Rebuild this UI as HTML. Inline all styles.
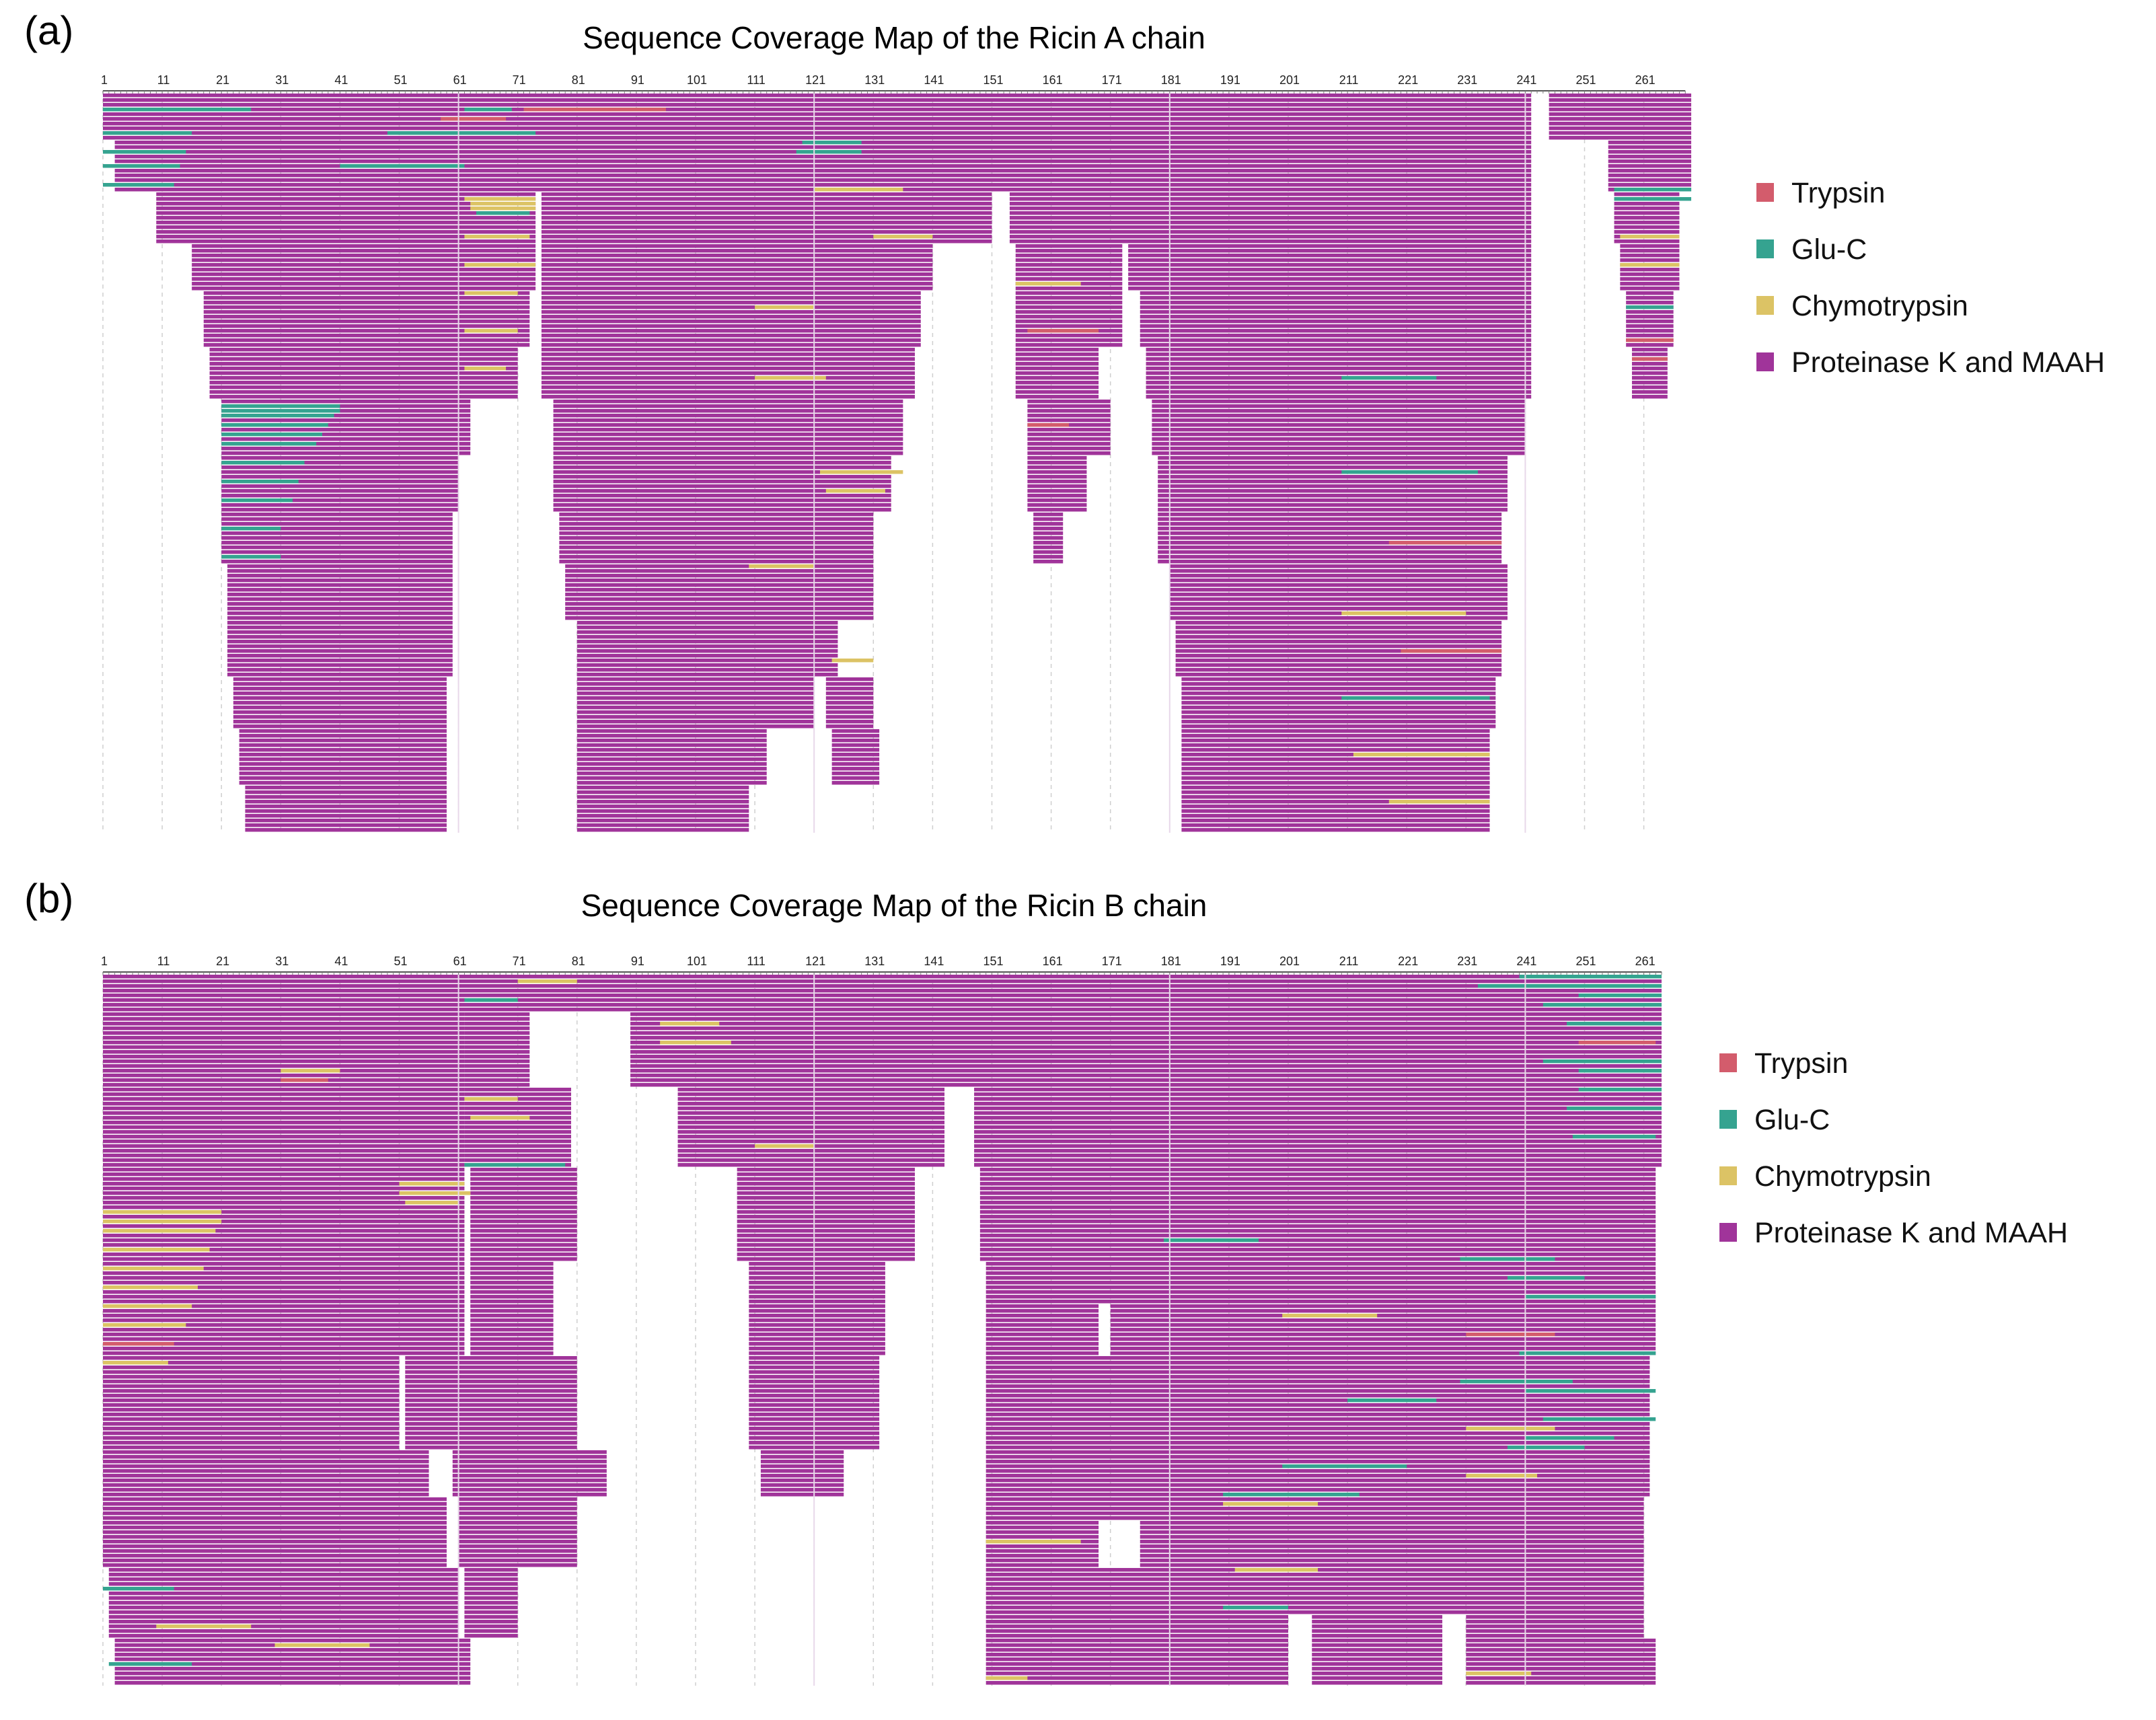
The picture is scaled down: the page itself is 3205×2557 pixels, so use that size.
<!DOCTYPE html>
<html><head><meta charset="utf-8">
<style>
html,body{margin:0;padding:0;background:#fff;}
svg{display:block;font-family:"Liberation Sans",sans-serif;}
</style></head>
<body>
<svg id="chart" width="3205" height="2557" viewBox="0 0 3205 2557" xmlns="http://www.w3.org/2000/svg">
<text x="36" y="66" font-size="60">(a)</text>
<text x="1329" y="72" font-size="46" text-anchor="middle">Sequence Coverage Map of the Ricin A chain</text>
<text x="36" y="1356" font-size="60">(b)</text>
<text x="1329" y="1362" font-size="46" text-anchor="middle">Sequence Coverage Map of the Ricin B chain</text>
<g id="pa"></g>
<g id="pb"></g>
<g id="legA"></g>
<g id="legB"></g>
</svg>
<script>
// enzyme keys: p = Proteinase K and MAAH, t = Trypsin, g = Glu-C, c = Chymotrypsin
const enzymeNames = ["Trypsin","Glu-C","Chymotrypsin","Proteinase K and MAAH"];
const enzymeKeys = ["t","g","c","p"];
const enzymeColors = {t:"#d35c6c", g:"#35a390", c:"#dcc365", p:"#a0349a"};
const tickLabels = [1,11,21,31,41,51,61,71,81,91,101,111,121,131,141,151,161,171,181,191,201,211,221,231,241,251,261];

// Panel A bands: [rowStart,rowEnd,startResidue,endResidue]
const bandsA = [
[0,9,1,241],[0,9,245,268],
[10,20,3,241],[10,20,255,268],
[21,31,10,73],[21,31,75,150],[21,31,154,241],[21,31,256,266],
[32,41,16,73],[32,41,75,140],[32,41,155,172],[32,41,174,241],[32,41,257,266],
[42,53,18,72],[42,53,75,138],[42,53,155,172],[42,53,176,241],[42,53,258,265],
[54,64,19,70],[54,64,75,137],[54,64,155,168],[54,64,177,241],[54,64,259,264],
[65,76,21,62],[65,76,77,135],[65,76,157,170],[65,76,178,240],
[77,88,21,60],[77,88,77,133],[77,88,157,166],[77,88,179,237],
[89,99,21,59],[89,99,78,130],[89,99,158,162],[89,99,179,236],
[100,111,22,59],[100,111,79,130],[100,111,181,237],
[112,123,22,59],[112,123,81,124],[112,123,182,236],
[124,134,23,58],[124,134,81,120],[124,134,123,130],[124,134,183,235],
[135,146,24,58],[135,146,81,112],[135,146,124,131],[135,146,183,234],
[147,156,25,58],[147,156,81,109],[147,156,183,234]
];
// Panel A colored peptides: [row,start,end,enzyme]
const pepsA = [
[3,1,25,"g"],[3,62,69,"g"],[3,72,95,"t"],[5,58,68,"t"],[8,1,15,"g"],[8,49,73,"g"],[12,1,14,"g"],[15,1,13,"g"],[15,41,61,"g"],
[19,1,12,"g"],[22,62,73,"c"],[23,63,73,"c"],[24,63,73,"c"],[25,64,72,"g"],[30,62,72,"c"],[36,62,73,"c"],[42,62,70,"c"],[50,62,70,"c"],[58,62,68,"c"],
[66,21,40,"g"],[67,21,40,"g"],[68,21,39,"g"],[70,21,38,"g"],[72,21,37,"g"],[74,21,36,"g"],[78,21,34,"g"],[82,21,33,"g"],[86,21,32,"g"],[92,21,30,"g"],[98,21,30,"g"],
[10,119,128,"g"],[12,118,128,"g"],[20,121,135,"c"],[30,131,140,"c"],[45,111,120,"c"],[60,111,122,"c"],[80,122,135,"c"],[84,123,132,"c"],[100,110,120,"c"],[120,124,130,"c"],
[40,155,165,"c"],[50,157,168,"t"],[70,157,163,"t"],[60,210,225,"g"],[80,210,232,"g"],[95,218,236,"t"],[110,210,230,"c"],[118,220,236,"t"],[128,210,234,"g"],[140,212,234,"c"],[150,218,234,"c"],
[20,256,268,"g"],[22,256,268,"g"],[30,257,266,"c"],[36,257,266,"c"],[45,258,265,"g"],[52,258,265,"t"],[56,259,264,"t"]
];
// Panel B bands
const bandsB = [
[0,7,1,263],
[8,23,1,61],[8,23,62,72],[8,23,90,263],
[24,40,1,61],[24,40,62,79],[24,40,98,142],[24,40,148,263],
[41,60,1,61],[41,60,63,80],[41,60,108,137],[41,60,149,262],
[61,69,1,61],[61,69,63,76],[61,69,110,132],[61,69,150,262],
[70,80,1,61],[70,80,63,76],[70,80,110,132],[70,80,150,168],[70,80,171,262],
[81,100,1,50],[81,100,52,80],[81,100,110,131],[81,100,150,261],
[101,110,1,55],[101,110,60,85],[101,110,112,125],[101,110,150,261],
[111,115,1,58],[111,115,61,80],[111,115,150,260],
[116,125,1,58],[116,125,61,80],[116,125,150,168],[116,125,176,260],
[126,135,2,60],[126,135,62,70],[126,135,150,260],
[136,140,2,60],[136,140,62,70],[136,140,150,200],[136,140,205,226],[136,140,231,260],
[141,150,3,62],[141,150,150,200],[141,150,205,226],[141,150,231,262]
];
const pepsB = [
[0,240,263,"g"],[2,233,263,"g"],[4,250,263,"g"],[6,244,263,"g"],[10,248,263,"g"],[14,250,262,"t"],[18,244,263,"g"],[1,71,80,"c"],[5,62,70,"g"],[10,95,104,"c"],[14,95,106,"c"],
[20,31,40,"c"],[22,31,38,"t"],[26,62,70,"c"],[30,63,72,"c"],[36,111,120,"c"],[40,62,78,"g"],[44,51,61,"c"],[46,51,62,"c"],[48,52,60,"c"],
[50,1,20,"c"],[52,1,20,"c"],[54,1,19,"c"],[58,1,18,"c"],[62,1,17,"c"],[66,1,16,"c"],[70,1,15,"c"],[74,1,14,"c"],[78,1,12,"t"],[82,1,11,"c"],
[56,180,195,"g"],[60,230,245,"g"],[64,238,250,"g"],[68,241,262,"g"],[72,200,215,"c"],[76,231,245,"t"],[80,240,262,"g"],[86,230,248,"g"],[90,211,225,"g"],[96,231,245,"c"],[100,238,250,"g"],[104,200,220,"g"],[106,231,242,"c"],
[110,190,212,"g"],[112,190,205,"c"],[120,150,165,"c"],[126,192,205,"c"],[130,1,12,"g"],[134,190,200,"g"],[138,10,25,"c"],[142,30,45,"c"],[146,2,15,"g"],[148,231,241,"c"],[149,150,156,"c"],
[20,250,263,"g"],[24,250,263,"g"],[28,248,263,"g"],[34,249,262,"g"],[88,241,262,"g"],[94,244,262,"g"],[98,241,255,"g"]
];

const NS = "http://www.w3.org/2000/svg";
const UNIT = 8.81, ROW = 7, BARH = 5.5;
function mk(tag, attrs){const e=document.createElementNS(NS,tag);for(const k in attrs)e.setAttribute(k,attrs[k]);return e;}

function drawPanel(gid, bands, peps, axisY, maxRes, nRows){
  const g = document.getElementById(gid);
  const x0 = 153;
  const xs = r => x0 + (r-1)*UNIT;
  const ys = row => axisY + 4 + row*ROW;
  const bottom = ys(nRows);
  tickLabels.forEach(t=>{
    if (t>maxRes) return;
    const l = mk("line",{x1:xs(t),x2:xs(t),y1:axisY,y2:bottom,stroke:"#cfcfcf","stroke-width":1.5,"stroke-dasharray":"6,6"});
    
    
    g.appendChild(l);
  });
  bands.forEach(b=>{
    for(let r=b[0]; r<=b[1]; r++){
      const rect = mk("rect",{x:xs(b[2]),y:ys(r),width:(b[3]-b[2]+1)*UNIT,height:BARH,fill:enzymeColors.p});
      
      
      g.appendChild(rect);
    }
  });
  peps.forEach(p=>{
    const rect = mk("rect",{x:xs(p[1]),y:ys(p[0]),width:(p[2]-p[1]+1)*UNIT,height:BARH,fill:enzymeColors[p[3]]});
    
    
    g.appendChild(rect);
  });
  [61,121,181,241].forEach(t=>{
    const l = mk("line",{x1:xs(t),x2:xs(t),y1:axisY,y2:bottom,stroke:"#e8d8ea","stroke-width":2});
    
    
    g.appendChild(l);
  });
  const ax = mk("line",{x1:xs(1),x2:xs(maxRes+1),y1:axisY,y2:axisY,stroke:"#555","stroke-width":2});
  
  
  g.appendChild(ax);
  for(let r=1;r<=maxRes+1;r++){
    const tk = mk("line",{x1:xs(r),x2:xs(r),y1:axisY,y2:axisY+4,stroke:"#777","stroke-width":1});
    
    
    g.appendChild(tk);
  }
  tickLabels.forEach(t=>{
    const tx = mk("text",{x:xs(t)+2,y:axisY-10,"font-size":18,"text-anchor":"middle",fill:"#222"});
    tx.textContent = t;
    
    
    g.appendChild(tx);
  });
}
function drawLegend(gid, x, y0){
  const g = document.getElementById(gid);
  enzymeKeys.forEach((k,i)=>{
    const y = y0 + i*84;
    const sq = mk("rect",{x:x,y:y-14,width:26,height:28,fill:enzymeColors[k]});
    
    
    g.appendChild(sq);
    const t = mk("text",{x:x+52,y:y+15,"font-size":43,fill:"#111"});
    t.textContent = enzymeNames[i];
    
    
    g.appendChild(t);
  });
}
drawPanel("pa", bandsA, pepsA, 135, 267, 157);
drawPanel("pb", bandsB, pepsB, 1445, 263, 151);
drawLegend("legA", 2611, 286);
drawLegend("legB", 2556, 1580);
</script>
</body></html>
